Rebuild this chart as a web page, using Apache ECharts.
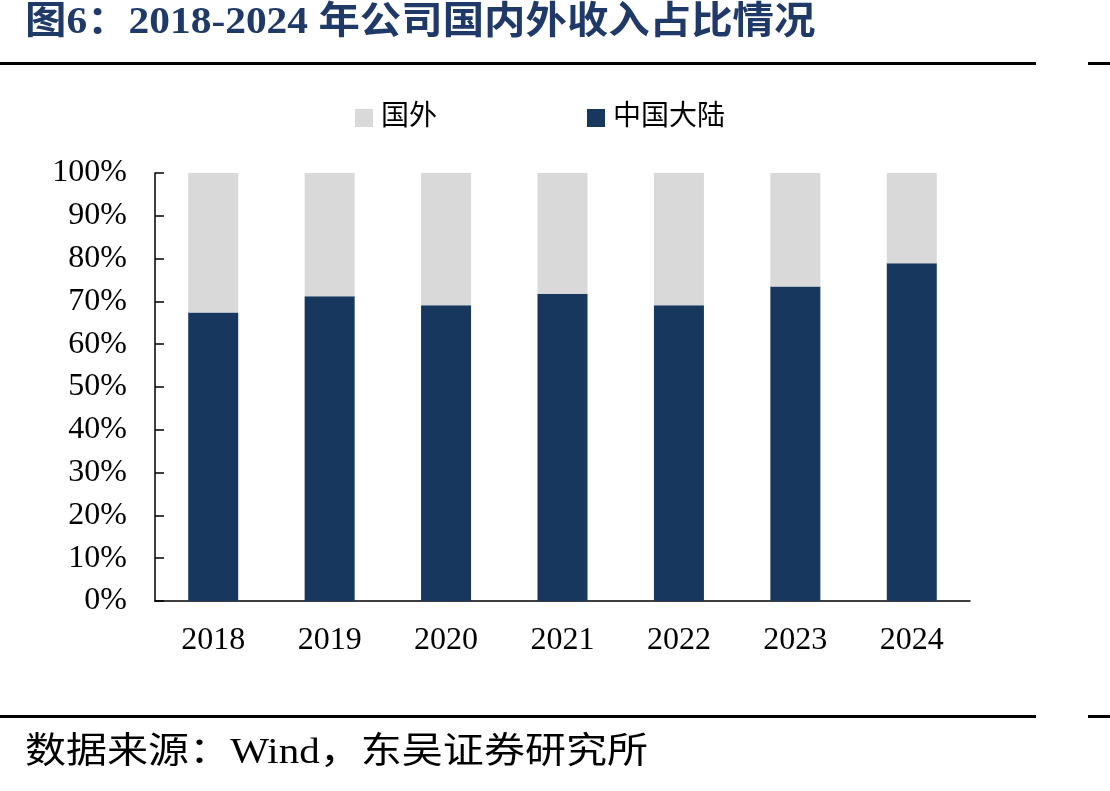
<!DOCTYPE html>
<html>
<head>
<meta charset="utf-8">
<script src="https://cdn.jsdelivr.net/npm/echarts@6/dist/echarts.min.js"></script>
<style>
  html, body { margin: 0; padding: 0; background: #fff; }
  #chart { width: 1110px; height: 791px; }
</style>
</head>
<body>
<div id="chart"></div>
<script>
const years = ['2018', '2019', '2020', '2021', '2022', '2023', '2024'];
const mainland = [67.4, 71.2, 69.1, 71.8, 69.1, 73.5, 78.9];
const overseas = [32.6, 28.8, 30.9, 28.2, 30.9, 26.5, 21.1];
const yTicks = ['0%', '10%', '20%', '30%', '40%', '50%', '60%', '70%', '80%', '90%', '100%'];

const serif = '"Liberation Serif", "Times New Roman", "Noto Sans CJK SC", serif';

const chart = echarts.init(document.getElementById('chart'));
chart.setOption({
  animation: false,
  legend: {
    data: ['国外', '中国大陆'],
    left: 355,
    top: 104,
    padding: 0,
    itemWidth: 18,
    itemHeight: 18,
    itemGap: 150,
    icon: 'rect',
    textStyle: { fontFamily: serif, fontSize: 28, color: '#000', padding: [0, 0, 0, 3] }
  },
  grid: { left: 155, right: 140, top: 173, bottom: 190 },
  xAxis: {
    type: 'category',
    data: years,
    axisLine: { lineStyle: { color: '#000', width: 1.5 } },
    axisTick: { inside: true, length: 9, lineStyle: { color: '#000', width: 1.5 } },
    axisLabel: { margin: 24, fontFamily: serif, fontSize: 32, color: '#000' }
  },
  yAxis: {
    type: 'value',
    min: 0,
    max: 100,
    interval: 10,
    splitLine: { show: false },
    axisLine: { show: true, lineStyle: { color: '#000', width: 1.5 } },
    axisTick: { show: true, inside: true, length: 9, lineStyle: { color: '#000', width: 1.5 } },
    axisLabel: {
      margin: 28,
      fontFamily: serif,
      fontSize: 32,
      color: '#000',
      formatter: v => yTicks[Math.round(v / 10)]
    }
  },
  series: [
    {
      name: '中国大陆',
      type: 'bar',
      stack: 'total',
      barWidth: 50,
      data: mainland,
      itemStyle: { color: '#17375e' }
    },
    {
      name: '国外',
      type: 'bar',
      stack: 'total',
      barWidth: 50,
      data: overseas,
      itemStyle: { color: '#d9d9d9' }
    }
  ],
  graphic: [
    {
      type: 'text',
      x: 25,
      y: 4,
      scaleX: 1.09,
      style: {
        text: '图6：2018-2024 年公司国内外收入占比情况',
        font: 'bold 38px ' + serif,
        fill: '#1f3a68'
      }
    },
    { type: 'rect', shape: { x: 0, y: 62, width: 1036, height: 3 }, style: { fill: '#000' } },
    { type: 'rect', shape: { x: 1088, y: 62, width: 22, height: 3 }, style: { fill: '#000' } },
    { type: 'rect', shape: { x: 0, y: 715, width: 1036, height: 3 }, style: { fill: '#000' } },
    { type: 'rect', shape: { x: 1088, y: 715, width: 22, height: 3 }, style: { fill: '#000' } },
    {
      type: 'text',
      x: 25,
      y: 736,
      scaleX: 1.14,
      style: { text: '数据来源：Wind，东吴证券研究所', font: '36px ' + serif, fill: '#000' }
    }
  ]
});
</script>
</body>
</html>
